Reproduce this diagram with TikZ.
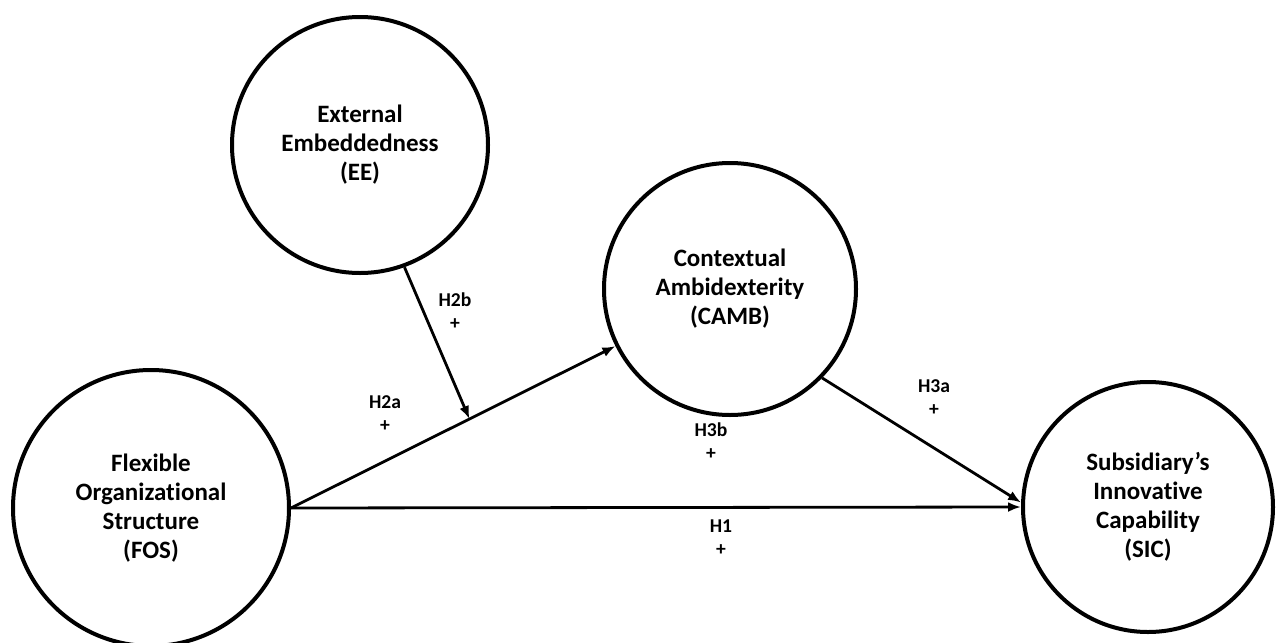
\documentclass[tikz,border=0pt]{standalone}
\usepackage{fontspec}
\setmainfont{Carlito}[Ligatures=NoCommon]
\usetikzlibrary{arrows.meta}

\begin{document}
\begin{tikzpicture}[x=0.5pt,y=-0.5pt,
  construct/.style={draw,circle,line width=2pt,inner sep=0pt,align=center,
    font=\fontsize{12.5}{14.5}\selectfont\bfseries},
  hyp/.style={align=center,font=\fontsize{9.8}{11.5}\selectfont\bfseries},
  effect/.style={line width=1.4pt,-{Latex[length=6.5pt,width=5pt]}}]
\useasboundingbox (0,0) rectangle (1276,643);
\node[construct,minimum size=128pt] (EE) at (360,145) {External\\Embeddedness\\(EE)};
\node[construct,minimum size=126pt] (CAMB) at (730,289) {Contextual\\Ambidexterity\\(CAMB)};
\node[construct,minimum size=138pt] (FOS) at (151,508) {Flexible\\Organizational\\Structure\\(FOS)};
\node[construct,minimum size=125pt] (SIC) at (1148,507) {Subsidiary’s\\Innovative\\Capability\\(SIC)};
\draw[effect] (FOS.east) -- coordinate[pos=0.55] (mod) (CAMB);
\draw[effect] (FOS.east) -- (SIC.west);
\draw[effect] (CAMB.-44) -- (SIC.178);
\draw[effect] (EE.-70) -- (mod);
\node[hyp] (h2b) at (455,311) {H2b\\+};
\node[hyp] (h2a) at (385,414) {H2a\\+};
\node[hyp] (h3b) at (711,441) {H3b\\+};
\node[hyp] (h3a) at (934,398) {H3a\\+};
\node[hyp] (h1) at (721,538) {H1\\+};
\end{tikzpicture}
\end{document}
